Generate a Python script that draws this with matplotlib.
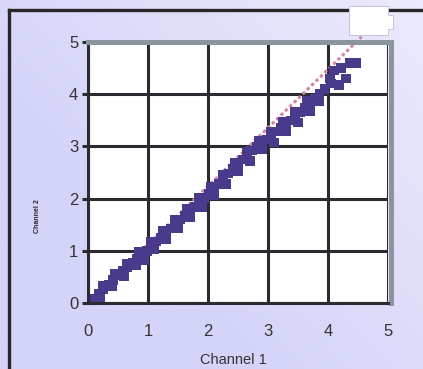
import numpy as np
import matplotlib
matplotlib.use("Agg")
import matplotlib.pyplot as plt
from matplotlib.lines import Line2D
from matplotlib.patches import Polygon

# main row of points along the diagonal
band_x = [0.03, 0.10, 0.18, 0.26, 0.34, 0.42, 0.50, 0.58, 0.66, 0.74,
          0.82, 0.90, 0.98, 1.06, 1.14, 1.22, 1.30, 1.38, 1.46, 1.54,
          1.62, 1.70, 1.78, 1.86, 1.94, 2.02, 2.10, 2.18, 2.26, 2.34,
          2.42, 2.50, 2.58, 2.66, 2.74, 2.82, 2.90, 2.98, 3.06, 3.14,
          3.22, 3.30, 3.38, 3.46, 3.54, 3.62, 3.70, 3.78, 3.86, 3.94]
band_y = [0.03, 0.08, 0.17, 0.26, 0.35, 0.44, 0.53, 0.61, 0.69, 0.77,
          0.85, 0.92, 1.00, 1.09, 1.18, 1.26, 1.34, 1.43, 1.51, 1.60,
          1.68, 1.76, 1.84, 1.92, 2.00, 2.09, 2.18, 2.28, 2.38, 2.48,
          2.58, 2.67, 2.75, 2.84, 2.92, 3.00, 3.06, 3.13, 3.20, 3.28,
          3.36, 3.43, 3.50, 3.58, 3.66, 3.75, 3.83, 3.92, 4.00, 4.10]

# points sitting a little below the main row
low_x = [0.20, 0.40, 0.60, 0.80, 0.93, 1.10, 1.30, 1.50, 1.70, 1.90,
         2.10, 2.30, 2.50, 2.70, 2.90, 3.10, 3.30, 3.50, 3.70, 3.85]
low_y = [0.08, 0.32, 0.52, 0.72, 0.82, 1.02, 1.22, 1.44, 1.64, 1.84,
         2.06, 2.28, 2.52, 2.72, 2.94, 3.08, 3.28, 3.46, 3.68, 3.86]

# points sitting a little above the main row
high_x = [0.25, 0.45, 0.65, 0.85, 1.05, 1.25, 1.45, 1.65, 1.85, 2.05,
          2.25, 2.45, 2.65, 2.85, 3.05, 3.25, 3.45, 3.65]
high_y = [0.33, 0.56, 0.76, 0.98, 1.17, 1.38, 1.59, 1.80, 2.01, 2.22,
          2.45, 2.68, 2.90, 3.10, 3.28, 3.48, 3.66, 3.87]

# the little cluster at the top end
top_x = [4.05, 4.03, 4.10, 4.18, 4.22, 4.30, 4.37, 4.47]
top_y = [4.20, 4.30, 4.45, 4.18, 4.50, 4.30, 4.60, 4.60]

# fitted line
line_x = [0.0, 4.56]
line_y = [0.0, 5.10]

ticks = [0, 1, 2, 3, 4, 5]

W, H = 423, 369
fig = plt.figure(figsize=(W / 100, H / 100), dpi=100)
plt.rcParams['font.family'] = ['Liberation Sans', 'DejaVu Sans']

# lavender background, lighter towards top right
bg = fig.add_axes([0, 0, 1, 1], zorder=-10)
gx, gy = np.meshgrid(np.linspace(0, 1, 200), np.linspace(0, 1, 200))
t = np.clip(0.75 * gx + 0.6 * gy - 0.45, 0, 1)
c0 = np.array([212, 212, 249]) / 255
c1 = np.array([238, 236, 253]) / 255
img = c0[None, None, :] * (1 - t[..., None]) + c1[None, None, :] * t[..., None]
bg.imshow(img, origin='lower', extent=[0, 1, 0, 1], aspect='auto')
bg.set_xlim(0, 1)
bg.set_ylim(0, 1)
bg.axis('off')

def fx(px):
    return px / W

def fy(py):
    return 1 - py / H

# dark frame along left and top
fig.add_artist(Line2D([fx(9), fx(9)], [0, fy(10)], color='#2a2527', lw=2.4,
                      transform=fig.transFigure, solid_capstyle='projecting'))
fig.add_artist(Line2D([fx(9), 1], [fy(10), fy(10)], color='#2a2527', lw=2.4,
                      transform=fig.transFigure, solid_capstyle='projecting'))

ax = fig.add_axes([fx(88), fy(303), 300 / W, 261 / H])
ax.set_facecolor('white')

ax.plot(line_x, line_y, color='#d682aa', lw=2.2, linestyle=(0, (1.1, 0.9)),
        clip_on=False, zorder=1.5)
for xs, ys in [(band_x, band_y), (low_x, low_y), (high_x, high_y), (top_x, top_y)]:
    ax.scatter(xs, ys, s=46, marker='s', color='#4a3a8c', edgecolor='none', zorder=2)

ax.set_xlim(0, 5)
ax.set_ylim(0, 5)
ax.set_xticks(ticks)
ax.set_yticks(ticks)
ax.set_axisbelow(True)
ax.grid(color='#2b2a30', lw=2.2)

for side in ['left', 'bottom']:
    ax.spines[side].set_color('#2b2a30')
    ax.spines[side].set_linewidth(2.2)
for side in ['top', 'right']:
    ax.spines[side].set_color('#8c959d')
    ax.spines[side].set_linewidth(3.6)
    ax.spines[side].set_capstyle('projecting')
ax.spines['right'].set_position(('outward', 1.8))

ax.tick_params(axis='y', length=4, width=2.2, color='#2b2a30', labelsize=12,
               labelcolor='#333333', pad=3)
ax.tick_params(axis='x', length=0, labelsize=12, labelcolor='#333333', pad=15)

ax.set_xlabel("Channel 1", fontsize=10.5, color='#333333')
ax.xaxis.set_label_coords(0.483, -0.19)
fig.text(fx(37), fy(216), "Channel 2", rotation=90, ha='center', va='center',
         fontsize=5, weight='bold', color='#2a2527')

# white box at top right
box = [(349, 6), (388, 6), (388, 15), (393, 15), (393, 29), (388, 29), (388, 35), (349, 35)]
fig.add_artist(Polygon([(fx(a), fy(b)) for a, b in box], closed=True, facecolor='white',
                       edgecolor='#c4c4d6', lw=0.7, transform=fig.transFigure, zorder=5))

plt.savefig('out.png', dpi=100)
plt.close()
